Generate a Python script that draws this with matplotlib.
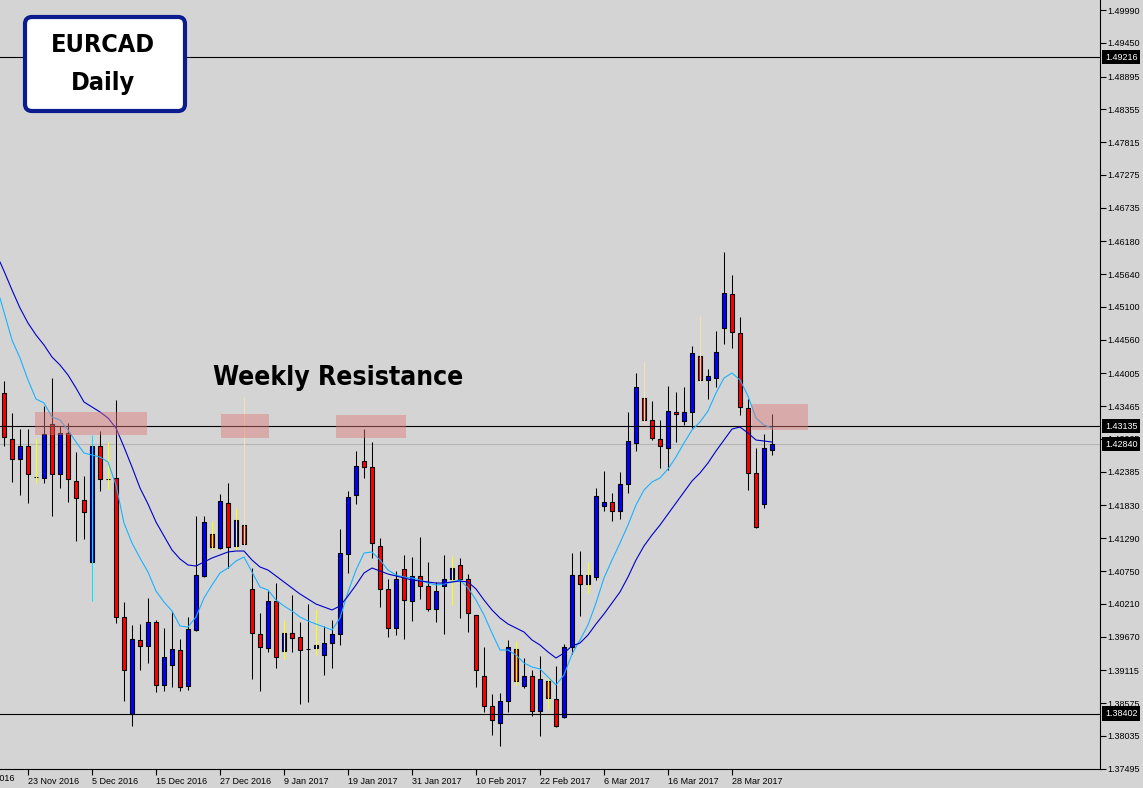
import numpy as np
import matplotlib.pyplot as plt
from matplotlib import font_manager as fm
from matplotlib.patches import Rectangle, FancyBboxPatch
from matplotlib.transforms import IdentityTransform, blended_transform_factory

plt.rcParams['font.family'] = ['Liberation Sans', 'DejaVu Sans']

# EURCAD daily candles, one per trading day (bar 0 = 18 Nov 2016)
opens = [1.43682, 1.42925, 1.42595, 1.42810, 1.42300, 1.42283, 1.43172, 1.42348, 1.43024, 1.42233,
         1.41920, 1.40899, 1.42810, 1.42267, 1.42283, 1.39993, 1.38396, 1.39615, 1.39516, 1.39911,
         1.38873, 1.39203, 1.39450, 1.38857, 1.39779, 1.40669, 1.41360, 1.41130, 1.41871, 1.41163,
         1.41508, 1.40455, 1.39713, 1.39483, 1.40257, 1.39433, 1.39730, 1.39664, 1.39466, 1.39483,
         1.39368, 1.39565, 1.39713, 1.41031, 1.42003, 1.42562, 1.42464, 1.41163, 1.40455, 1.39812,
         1.40784, 1.40257, 1.40669, 1.40504, 1.40125, 1.40504, 1.40619, 1.40850, 1.40619, 1.40026,
         1.39022, 1.38528, 1.38248, 1.38610, 1.39466, 1.38857, 1.39022, 1.38445, 1.38939, 1.38643,
         1.38346, 1.39499, 1.40685, 1.40537, 1.40652, 1.41821, 1.41887, 1.41739, 1.42184, 1.42859,
         1.43600, 1.43238, 1.42925, 1.42777, 1.43370, 1.43221, 1.43370, 1.44292, 1.43897, 1.43929,
         1.44753, 1.45313, 1.44670, 1.43435, 1.42365, 1.41854, 1.42744]
highs = [1.43880, 1.43353, 1.43089, 1.43089, 1.42941, 1.43468, 1.43929, 1.43139, 1.43188, 1.42711,
         1.42316, 1.42991, 1.43057, 1.42875, 1.43567, 1.40240, 1.39862, 1.39878, 1.40306, 1.39944,
         1.39812, 1.40092, 1.39631, 1.39993, 1.41657, 1.41657, 1.41574, 1.42019, 1.42200, 1.41788,
         1.43617, 1.40800, 1.40059, 1.40422, 1.40553, 1.39944, 1.40356, 1.39911, 1.40207, 1.40125,
         1.39845, 1.39944, 1.41443, 1.42068, 1.42727, 1.43089, 1.42875, 1.41294, 1.40619, 1.40751,
         1.41014, 1.40981, 1.41311, 1.40899, 1.40570, 1.41014, 1.40998, 1.40965, 1.40701, 1.40030,
         1.39499, 1.38725, 1.38742, 1.39615, 1.39598, 1.39318, 1.39120, 1.39351, 1.39005, 1.39186,
         1.39549, 1.41047, 1.41080, 1.40899, 1.42118, 1.42398, 1.42036, 1.42381, 1.43370, 1.44012,
         1.44193, 1.43551, 1.43238, 1.43798, 1.43699, 1.43781, 1.44456, 1.44950, 1.44078, 1.44703,
         1.46005, 1.45626, 1.44934, 1.43584, 1.42777, 1.43007, 1.43337]
lows = [1.42810, 1.42217, 1.42003, 1.41871, 1.42200, 1.42200, 1.41657, 1.42118, 1.41887, 1.41245,
        1.41278, 1.40257, 1.42068, 1.42101, 1.39895, 1.38610, 1.38198, 1.39120, 1.39236, 1.38758,
        1.38775, 1.38841, 1.38775, 1.38791, 1.39763, 1.40652, 1.41113, 1.41113, 1.40800, 1.41080,
        1.41179, 1.38972, 1.38775, 1.39417, 1.39153, 1.39302, 1.39417, 1.38561, 1.38594, 1.39368,
        1.39038, 1.39153, 1.39532, 1.40718, 1.41854, 1.42283, 1.40965, 1.40158, 1.39664, 1.39697,
        1.39631, 1.39928, 1.40290, 1.40092, 1.39911, 1.39713, 1.40191, 1.39977, 1.39746, 1.38841,
        1.38429, 1.38050, 1.37869, 1.38429, 1.38873, 1.38824, 1.38363, 1.38034, 1.38478, 1.38182,
        1.38330, 1.39384, 1.40010, 1.40389, 1.40603, 1.41739, 1.41574, 1.41607, 1.42036, 1.42727,
        1.43188, 1.42908, 1.42447, 1.42414, 1.42875, 1.43155, 1.43106, 1.43831, 1.43584, 1.43781,
        1.44489, 1.44423, 1.43320, 1.42085, 1.41455, 1.41788, 1.42661]
closes = [1.42958, 1.42595, 1.42810, 1.42348, 1.42298, 1.43007, 1.42348, 1.43024, 1.42266, 1.41953,
          1.41723, 1.42810, 1.42266, 1.42265, 1.39993, 1.39120, 1.39631, 1.39516, 1.39911, 1.38873,
          1.39335, 1.39466, 1.38841, 1.39796, 1.40685, 1.41558, 1.41146, 1.41904, 1.41146, 1.41591,
          1.41196, 1.39730, 1.39499, 1.40257, 1.39335, 1.39730, 1.39647, 1.39450, 1.39464, 1.39532,
          1.39565, 1.39713, 1.41047, 1.41970, 1.42480, 1.42464, 1.41212, 1.40455, 1.39812, 1.40619,
          1.40273, 1.40669, 1.40504, 1.40125, 1.40422, 1.40619, 1.40800, 1.40619, 1.40059, 1.39120,
          1.38528, 1.38297, 1.38610, 1.39499, 1.38939, 1.39022, 1.38445, 1.38972, 1.38659, 1.38198,
          1.39499, 1.40685, 1.40537, 1.40685, 1.41986, 1.41887, 1.41739, 1.42184, 1.42892, 1.43781,
          1.43238, 1.42941, 1.42810, 1.43386, 1.43337, 1.43370, 1.44341, 1.43897, 1.43962, 1.44358,
          1.45329, 1.44687, 1.43452, 1.42365, 1.41476, 1.42777, 1.42840]

# moving averages as drawn on the chart (first value sits at the left edge)
fast_ma = [1.45247, 1.45016, 1.44555, 1.44259, 1.43897, 1.43584, 1.43518, 1.43287, 1.43238, 1.43073,
           1.42875, 1.42694, 1.42661, 1.42628, 1.42546, 1.42167, 1.41541, 1.41212, 1.40965, 1.40734,
           1.40422, 1.40240, 1.40092, 1.39845, 1.39829, 1.39993, 1.40306, 1.40520, 1.40718, 1.40800,
           1.40916, 1.40981, 1.40734, 1.40487, 1.40438, 1.40273, 1.40175, 1.40092, 1.39993, 1.39928,
           1.39878, 1.39829, 1.39779, 1.39977, 1.40405, 1.40767, 1.41047, 1.41064, 1.40932, 1.40767,
           1.40685, 1.40652, 1.40636, 1.40603, 1.40553, 1.40520, 1.40537, 1.40570, 1.40603, 1.40471,
           1.40273, 1.40026, 1.39730, 1.39450, 1.39450, 1.39368, 1.39236, 1.39170, 1.39137, 1.39005,
           1.38873, 1.39038, 1.39384, 1.39615, 1.39862, 1.40224, 1.40636, 1.40932, 1.41212, 1.41508,
           1.41838, 1.42085, 1.42217, 1.42283, 1.42431, 1.42628, 1.42859, 1.43073, 1.43205, 1.43386,
           1.43682, 1.43929, 1.44012, 1.43897, 1.43633, 1.43271, 1.43155, 1.43106]
slow_ma = [1.45840, 1.45692, 1.45379, 1.45082, 1.44835, 1.44638, 1.44473, 1.44275, 1.44144, 1.43979,
           1.43765, 1.43534, 1.43452, 1.43370, 1.43271, 1.43106, 1.42793, 1.42464, 1.42118, 1.41854,
           1.41558, 1.41327, 1.41097, 1.40949, 1.40850, 1.40833, 1.40899, 1.40965, 1.41014, 1.41064,
           1.41080, 1.41080, 1.40932, 1.40817, 1.40767, 1.40669, 1.40570, 1.40471, 1.40372, 1.40290,
           1.40207, 1.40158, 1.40109, 1.40175, 1.40339, 1.40520, 1.40718, 1.40800, 1.40751, 1.40701,
           1.40669, 1.40636, 1.40603, 1.40586, 1.40570, 1.40553, 1.40553, 1.40570, 1.40586, 1.40570,
           1.40455, 1.40273, 1.40109, 1.39977, 1.39878, 1.39812, 1.39746, 1.39615, 1.39532, 1.39417,
           1.39318, 1.39400, 1.39516, 1.39565, 1.39697, 1.39878, 1.40043, 1.40224, 1.40405, 1.40652,
           1.40932, 1.41163, 1.41344, 1.41508, 1.41690, 1.41871, 1.42052, 1.42233, 1.42365, 1.42530,
           1.42727, 1.42908, 1.43089, 1.43122, 1.43024, 1.42908, 1.42892, 1.42875]

# candles flagged by the pin-bar indicator (wick recoloured)
yellow_pins = [4, 13, 26, 29, 35, 39, 56, 64, 68, 73]
cyan_pins = [11]
wheat_pins = [30, 80, 87]

level_lines = [1.49216, 1.43135, 1.38402]
bid_price = 1.42840

# weekly resistance zones (bar range, price range)
zone_from = [3.9, 27.1, 41.5, 93.5]
zone_to = [17.9, 33.1, 50.3, 100.5]
zone_low = [1.42991, 1.42941, 1.42941, 1.43073]
zone_high = [1.43370, 1.43337, 1.43320, 1.43502]

price_ticks = [1.49990, 1.49450, 1.48895, 1.48355, 1.47815, 1.47275, 1.46735, 1.46180,
               1.45640, 1.45100, 1.44560, 1.44005, 1.43465, 1.42925, 1.42385, 1.41830,
               1.41290, 1.40750, 1.40210, 1.39670, 1.39115, 1.38575, 1.38035, 1.37495]
date_bars = [3, 11, 19, 27, 35, 43, 51, 59, 67, 75, 83, 91]
date_labels = ['23 Nov 2016', '5 Dec 2016', '15 Dec 2016', '27 Dec 2016', '9 Jan 2017',
               '19 Jan 2017', '31 Jan 2017', '10 Feb 2017', '22 Feb 2017', '6 Mar 2017',
               '16 Mar 2017', '28 Mar 2017']

BG = '#d4d4d4'
W, H = 1143, 788


def heavy_narrow():
    # an Impact-like look: prefer a bold narrow/condensed face if one is installed
    best = None
    for f in fm.fontManager.ttflist:
        narrow = ('condensed' in str(f.stretch).lower() or 'Narrow' in f.name
                  or 'Condensed' in f.name)
        w = f.weight if isinstance(f.weight, int) else fm.weight_dict.get(f.weight, 400)
        if narrow and w >= 700:
            if best is None or 'Liberation' in f.name:
                best = f
    if best is not None:
        return fm.FontProperties(fname=best.fname)
    return fm.FontProperties(family='DejaVu Sans', weight='bold')


def fit_width(txt, target_px):
    fig.canvas.draw()
    bb = txt.get_window_extent()
    txt.set_fontsize(txt.get_fontsize() * target_px / bb.width)


fig = plt.figure(figsize=(W / 100, H / 100), dpi=100)
fig.patch.set_facecolor(BG)
ax = fig.add_axes([0, 1 - 769 / H, 1100 / W, 769 / H])
ax.set_facecolor(BG)

o, h, l, c = map(np.array, (opens, highs, lows, closes))
bars = np.arange(len(o))
up = c >= o

pin_colour = {}
for i in yellow_pins:
    pin_colour[i] = '#ffff00'
for i in cyan_pins:
    pin_colour[i] = '#00e5ff'
for i in wheat_pins:
    pin_colour[i] = '#f7dfb8'

plain = np.array([i for i in bars if i not in pin_colour])
ax.vlines(plain, l[plain], h[plain], color='black', lw=0.75, zorder=2)

body_low = np.minimum(o, c)
body_h = np.maximum(np.abs(c - o), 0.00003)
ax.bar(bars, body_h, bottom=body_low, width=0.6,
       color=np.where(up, '#0000ff', '#ff0000'), edgecolor='black', linewidth=0.8, zorder=3)

for i, col in pin_colour.items():
    ax.vlines(i, l[i], h[i], color=col, lw=0.75, zorder=4)

ma_x = np.r_[-0.5, bars]
ax.plot(ma_x, fast_ma, color='#1ab2ff', lw=0.8, zorder=5)
ax.plot(ma_x, slow_ma, color='#0000c8', lw=0.8, zorder=5)

for lvl in level_lines:
    ax.axhline(lvl, color='black', lw=0.8, zorder=4.5)
ax.axhline(bid_price, color='#b4b4b4', lw=0.8, zorder=1)

for x0, x1, y0, y1 in zip(zone_from, zone_to, zone_low, zone_high):
    ax.add_patch(Rectangle((x0, y0), x1 - x0, y1 - y0, facecolor='#e07878',
                           edgecolor='none', alpha=0.45, zorder=6))

heavy = heavy_narrow()
wr = ax.text(41.75, 1.43929, 'Weekly Resistance', ha='center', va='center',
             fontproperties=heavy, fontsize=26, color='black', zorder=7)

ax.set_xlim(-0.5, 137)
ax.set_ylim(1.37490, 1.50155)

for s in ('top', 'left'):
    ax.spines[s].set_visible(False)
for s in ('right', 'bottom'):
    ax.spines[s].set_linewidth(0.8)

ax.yaxis.tick_right()
ax.set_yticks(price_ticks)
ax.set_yticklabels([f'{p:.5f}' for p in price_ticks])
ax.tick_params(axis='y', direction='out', length=4, width=0.8, pad=1.5, labelsize=6.5)

ax.set_xticks(date_bars)
ax.set_xticklabels(date_labels, ha='left')
ax.tick_params(axis='x', direction='out', length=4, width=0.8, pad=1.5, labelsize=6.5)

# label of the tick that has scrolled off to the left
ax.text(-5, -0.006, '11 Nov 2016', transform=blended_transform_factory(ax.transData, ax.transAxes),
        ha='left', va='top', fontsize=6.5, clip_on=False)

# price tags for the horizontal lines and the bid
edge = blended_transform_factory(ax.transAxes, ax.transData)
for p in level_lines + [bid_price]:
    ax.text(1 + 5 / 1100, p, f'{p:.5f}', transform=edge, ha='left', va='center',
            fontsize=6.5, color='white', clip_on=False, zorder=10,
            bbox=dict(boxstyle='square,pad=0.3', fc='black', ec='none'))

# title card
px = IdentityTransform()
fig.patches.append(FancyBboxPatch((25, H - 111), 160, 94, boxstyle='round,pad=0,rounding_size=7',
                                  transform=px, facecolor='white', edgecolor='#0b1d8e',
                                  linewidth=3.0, zorder=20))
t1 = fig.text(103, H - 45, 'EURCAD', transform=px, ha='center', va='center',
              fontproperties=heavy, fontsize=24, zorder=21)
t2 = fig.text(103, H - 83, 'Daily', transform=px, ha='center', va='center',
              fontproperties=heavy, fontsize=24, zorder=21)

fit_width(wr, 250)
fit_width(t1, 104)
t2.set_fontsize(t1.get_fontsize())

fig.savefig('out.png', dpi=100, facecolor=BG)
